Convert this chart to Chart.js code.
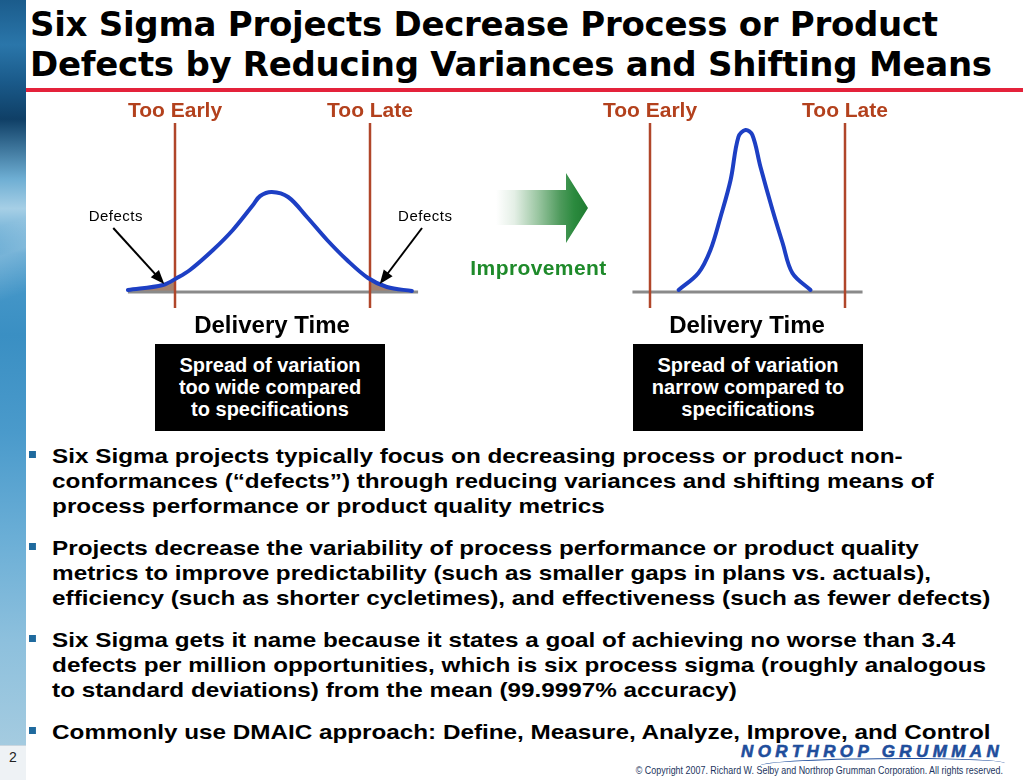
<!DOCTYPE html>
<html>
<head>
<meta charset="utf-8">
<script src="https://cdn.jsdelivr.net/npm/chart.js@4.4.1/dist/chart.umd.min.js"></script>
<style>
  body { margin: 0; background: #fff; }
  #slide { position: relative; width: 1023px; height: 780px; overflow: hidden; background: #fff; font-family: "Liberation Sans", Arial, sans-serif; }
  .abs { position: absolute; }
  #strip { left: 0; top: 0; width: 26px; height: 745px;
    background:
      linear-gradient(160deg, rgba(255,255,255,0) 0%, rgba(255,255,255,0) 30%, rgba(255,255,255,0.25) 34%, rgba(255,255,255,0) 40%, rgba(255,255,255,0) 100%),
      linear-gradient(180deg, #1b5c8c 0%, #2a76aa 6%, #1a5a8a 11%, #0f3f66 16%, #6eaed3 24%, #a6cfe6 28%, #4b9bcb 34%, #3a8fc3 45%, #4a9acb 58%, #6aaed6 72%, #8dc0dd 86%, #a4cbe0 100%); }
  #stripfoot { left: 0; top: 745px; width: 26px; height: 35px; background: #eef2f5; border-top: 1px solid #c9d6df; }
  #title { left: 30px; top: 4px; font-family: "DejaVu Sans", Verdana, sans-serif; font-weight: bold; font-size: 34px; line-height: 40px; color: #000; white-space: nowrap; letter-spacing: -0.28px; }
  #rule { left: 26px; top: 88px; width: 997px; height: 4px; background: #e4223b; }
  .dt { font-weight: bold; font-size: 24px; color: #000; width: 240px; text-align: center; }
  .box { background: #000; color: #fff; font-weight: bold; font-size: 20px; line-height: 22px; text-align: center; padding-top: 10px; box-sizing: border-box; }
  #arrow { left: 496px; top: 173px; width: 92px; height: 70px;
    clip-path: polygon(0 17px, 70px 17px, 70px 0, 92px 35px, 70px 70px, 70px 52px, 0 52px);
    background: linear-gradient(90deg, #ffffff 0%, #e4efe6 20%, #9cc7a3 45%, #4e9a5c 70%, #2b8a3e 85%, #1f7b31 100%); }
  #improve { left: 455px; top: 256px; width: 167px; text-align: center; font-weight: bold; font-size: 21px; color: #1e8a2a; letter-spacing: 0.4px; }
  #bullets { left: 29px; top: 443px; width: 990px; }
  .b { position: relative; padding-left: 20px; font-weight: bold; font-size: 21px; line-height: 25px; color: #000; margin-bottom: 17px; white-space: nowrap; transform: scaleX(1.155); transform-origin: 0 0; }
  .b::before { content: ""; position: absolute; left: 0; top: 8px; width: 6px; height: 7px; background: #1f6a9e; }
  #pg { left: 9px; top: 749px; font-size: 14px; color: #222; }
  #logo { left: 741px; top: 743px; font-weight: bold; font-style: italic; font-size: 17px; line-height: 17px; letter-spacing: 4.4px; color: #1f4e9c; white-space: nowrap; -webkit-text-stroke: 0.6px #1f4e9c; }
  #swoosh { left: 760px; top: 758px; width: 245px; height: 12px; border-top: 1.5px solid #1f4e9c; border-radius: 60% 40% 0 0; }
  #copy { right: 20px; top: 764px; font-size: 10.5px; color: #1c3560; white-space: nowrap; transform: scaleX(0.85); transform-origin: 100% 0; }
</style>
</head>
<body>
<div id="slide">
  <div id="strip" class="abs"></div>
  <div id="stripfoot" class="abs"></div>
  <div id="title" class="abs">Six Sigma Projects Decrease Process or Product<br>Defects by Reducing Variances and Shifting Means</div>
  <div id="rule" class="abs"></div>

  <canvas id="wide" class="abs" style="left:80px;top:95px" width="385" height="225"></canvas>
  <canvas id="narrow" class="abs" style="left:580px;top:95px" width="335" height="225"></canvas>

  <div class="abs dt" style="left:152px;top:311px">Delivery Time</div>
  <div class="abs dt" style="left:627px;top:311px">Delivery Time</div>
  <div class="abs box" style="left:155px;top:344px;width:230px;height:87px">Spread of variation<br>too wide compared<br>to specifications</div>
  <div class="abs box" style="left:633px;top:344px;width:230px;height:87px">Spread of variation<br>narrow compared to<br>specifications</div>

  <div id="arrow" class="abs"></div>
  <div id="improve" class="abs">Improvement</div>

  <div id="bullets" class="abs">
    <div class="b">Six Sigma projects typically focus on decreasing process or product non-<br>conformances (“defects”) through reducing variances and shifting means of<br>process performance or product quality metrics</div>
    <div class="b">Projects decrease the variability of process performance or product quality<br>metrics to improve predictability (such as smaller gaps in plans vs. actuals),<br>efficiency (such as shorter cycletimes), and effectiveness (such as fewer defects)</div>
    <div class="b">Six Sigma gets it name because it states a goal of achieving no worse than 3.4<br>defects per million opportunities, which is six process sigma (roughly analogous<br>to standard deviations) from the mean (99.9997% accuracy)</div>
    <div class="b">Commonly use DMAIC approach: Define, Measure, Analyze, Improve, and Control</div>
  </div>

  <div id="pg" class="abs">2</div>
  <div id="logo" class="abs">NORTHROP GRUMMAN</div>
  <div id="swoosh" class="abs"></div>
  <div id="copy" class="abs">© Copyright 2007. Richard W. Selby and Northrop Grumman Corporation. All rights reserved.</div>
</div>

<script>
// delivery time in sigma-ish units, spec limits at +-3
var specLimits = [-3, 3];
var specLabels = ['Too Early', 'Too Late'];
var specLineFrom = -16, specLineTo = 169, specLabelLevel = 175;

// before: wide spread
var wideTimes = [-4.45, -3.37, -2.94, -2.54, -1.83, -1.22, -0.60, -0.38, -0.02, 0.48, 1.06, 1.68, 2.29, 2.94, 3.52, 4.29];
var wideFreq  = [2, 7, 14, 22, 42, 62, 87, 96, 100, 95, 75, 52, 32, 14, 5, 1];
var wideLowTailTimes  = [-4.45, -3.37, -3];
var wideLowTailFreq   = [2, 7, 13];
var wideHighTailTimes = [3, 3.52, 4.29];
var wideHighTailFreq  = [13, 5, 1];
var wideAxisEnds = [-4.45, 4.48];

// after: narrow spread
var narrowTimes = [-2.12, -1.51, -1.14, -0.83, -0.52, -0.28, -0.06, 0.15, 0.40, 0.77, 1.08, 1.38, 1.94];
var narrowFreq  = [2, 19, 42, 75, 112, 155, 162, 157, 125, 82, 49, 19, 2];
var narrowAxisEnds = [-3.54, 3.54];

var pxPerUnit = 32.5;

function pts(xs, ys) {
  return xs.map(function (x, i) { return { x: x, y: ys[i] }; });
}

var slideMarks = {
  id: 'slideMarks',
  afterDatasetsDraw: function (chart, args, opts) {
    var ctx = chart.ctx, x = chart.scales.x, y = chart.scales.y;
    ctx.save();
    ctx.font = 'bold 21px "Liberation Sans", Arial';
    ctx.fillStyle = '#b3411d';
    ctx.textAlign = 'center';
    specLimits.forEach(function (v, i) {
      ctx.fillText(specLabels[i], x.getPixelForValue(v), y.getPixelForValue(specLabelLevel));
    });
    (opts.defects || []).forEach(function (d) {
      ctx.font = '15px "Liberation Sans", Arial';
      ctx.letterSpacing = '0.5px';
      ctx.fillStyle = '#000';
      ctx.fillText('Defects', x.getPixelForValue(d.label[0]), y.getPixelForValue(d.label[1]));
      var x0 = x.getPixelForValue(d.from[0]), y0 = y.getPixelForValue(d.from[1]);
      var x1 = x.getPixelForValue(d.to[0]), y1 = y.getPixelForValue(d.to[1]);
      var a = Math.atan2(y1 - y0, x1 - x0);
      ctx.strokeStyle = '#000';
      ctx.lineWidth = 2;
      ctx.beginPath();
      ctx.moveTo(x0, y0);
      ctx.lineTo(x1 - 10 * Math.cos(a), y1 - 10 * Math.sin(a));
      ctx.stroke();
      ctx.beginPath();
      ctx.moveTo(x1, y1);
      ctx.lineTo(x1 - 14 * Math.cos(a) + 5.5 * Math.sin(a), y1 - 14 * Math.sin(a) - 5.5 * Math.cos(a));
      ctx.lineTo(x1 - 14 * Math.cos(a) - 5.5 * Math.sin(a), y1 - 14 * Math.sin(a) + 5.5 * Math.cos(a));
      ctx.closePath();
      ctx.fill();
    });
    ctx.restore();
  }
};

function bellChart(id, times, freq, axisEnds, tails, defects) {
  var canvas = document.getElementById(id);
  var half = canvas.width / 2 / pxPerUnit;
  var sets = [];
  tails.forEach(function (t) {
    sets.push({ data: pts(t[0], t[1]), fill: 'origin', backgroundColor: '#a4826f', borderWidth: 0, tension: 0.3, order: 4 });
  });
  sets.push({ data: pts(axisEnds, [0, 0]), borderColor: '#8a8a8a', borderWidth: 3, order: 3 });
  specLimits.forEach(function (v) {
    sets.push({ data: pts([v, v], [specLineFrom, specLineTo]), borderColor: '#b0462a', borderWidth: 2.5, order: 2 });
  });
  sets.push({ data: pts(times, freq), borderColor: '#1d3fc4', borderWidth: 4, tension: 0.35, borderCapStyle: 'round', order: 1 });

  return new Chart(canvas.getContext('2d'), {
    type: 'line',
    data: { datasets: sets },
    options: {
      responsive: false,
      animation: false,
      clip: false,
      layout: { padding: 0 },
      elements: { point: { radius: 0 } },
      scales: {
        x: { type: 'linear', min: -half, max: half, display: false },
        y: { min: -28, max: 197, display: false }
      },
      plugins: { legend: { display: false }, tooltip: { enabled: false }, slideMarks: { defects: defects } }
    },
    plugins: [slideMarks]
  });
}

bellChart('wide', wideTimes, wideFreq, wideAxisEnds,
  [[wideLowTailTimes, wideLowTailFreq], [wideHighTailTimes, wideHighTailFreq]],
  [{ label: [-4.82, 71], from: [-4.9, 64], to: [-3.33, 8] },
   { label: [4.7, 71], from: [4.6, 64], to: [3.3, 8] }]);
bellChart('narrow', narrowTimes, narrowFreq, narrowAxisEnds, [], []);
</script>
</body>
</html>
